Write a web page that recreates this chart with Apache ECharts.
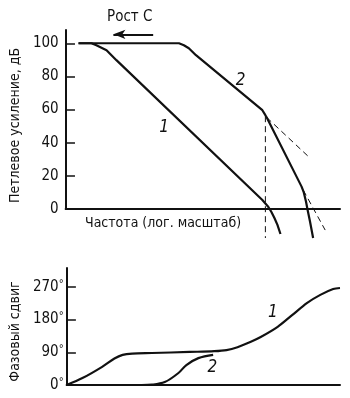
<!DOCTYPE html>
<html>
<head>
<meta charset="utf-8">
<script src="https://cdn.jsdelivr.net/npm/echarts@6/dist/echarts.min.js"></script>
<style>
  html, body { margin: 0; padding: 0; background: #fff; }
  #chart { width: 350px; height: 398px; }
</style>
</head>
<body>
<div id="chart"></div>
<script>
// частота: условная лог. шкала 0..100
const gainTicks = [0, 20, 40, 60, 80, 100]
const phaseTicks = [0, 90, 180, 270]

// петлевое усиление, дБ  [частота, дБ]
const gain1 = [
  [4.7, 100], [9.4, 100], [11.2, 98.8], [14.9, 95.8], [18.5, 89.8],
  [71.7, 5.4], [73.9, 1.2], [75.0, -1.8], [76.1, -5.4], [77.2, -9.6], [78.3, -15.1]
]
const gain2 = [
  [4.7, 100], [41.3, 100], [43.1, 98.8], [44.9, 97.0], [47.5, 92.8],
  [71.7, 59.6], [72.8, 56.6], [73.3, 55.2], [86.0, 13.5], [86.8, 10.0],
  [87.6, 4.5], [88.2, -0.6], [89.1, -7.8], [90.2, -17.5]
]
// асимптоты (пунктир)
const asym1 = [[73.3, 55.2], [89.1, 30.7]]
const asym2 = [[86.6, 11.4], [94.6, -12.7]]
const cutoff = [[72.8, 56], [72.8, -17.5]]
// стрелка «Рост C»
const arrowLine = [[31.9, 105.4], [17.4, 105.4]]

// фазовый сдвиг, градусы
const phase1 = [
  [0, 0], [5.8, 19], [13.0, 50], [17.5, 73], [20.5, 83], [24, 86.5],
  [31.2, 88], [45, 91], [54, 93], [58.5, 96], [62.5, 104], [67.4, 119],
  [71.0, 132], [77.2, 160], [82.6, 193], [88.0, 226], [92.8, 248],
  [97.5, 264], [100, 267]
]
const phase2 = [
  [27.5, 0], [31.2, 1], [35.9, 8], [40.9, 33], [43.8, 55], [48.2, 74], [53.6, 83]
]

const font = '"Liberation Sans Narrow", "DejaVu Sans Condensed", sans-serif'
const black = '#111'
const tickLen = 3.4 // длина штриха в единицах оси X

const chart = echarts.init(document.getElementById('chart'))

const curveLabel = (text, coord) => ({
  symbol: 'circle',
  symbolSize: 0,
  silent: true,
  label: {
    show: true,
    position: 'inside',
    formatter: text,
    color: black,
    fontSize: 17,
    fontStyle: 'italic',
    fontFamily: font
  },
  data: [{ coord }]
})

// штрихи шкалы внутрь графика
const tickMarks = (values) => ({
  silent: true,
  symbol: ['none', 'none'],
  label: { show: false },
  lineStyle: { color: black, width: 1.5, type: 'solid' },
  data: values.map((v) => [{ coord: [0, v] }, { coord: [tickLen, v] }])
})

const solid = (name, xi, data, extra) => Object.assign({
  name,
  type: 'line',
  xAxisIndex: xi,
  yAxisIndex: xi,
  data,
  symbol: 'none',
  clip: false,
  lineStyle: { color: black, width: 2.2 }
}, extra)

const dashed = (name, data) => ({
  name,
  type: 'line',
  data,
  symbol: 'none',
  clip: false,
  lineStyle: { color: black, width: 1, type: [6, 4] }
})

const option = {
  animation: false,
  backgroundColor: '#fff',
  title: {
    text: 'Рост C',
    left: 102,
    top: 5,
    textStyle: { color: black, fontSize: 15, fontWeight: 'normal', fontFamily: font }
  },
  graphic: [{
    type: 'text',
    left: 85,
    top: 216,
    style: { text: 'Частота (лог. масштаб)', fill: black, font: '14px ' + font }
  }],
  grid: [
    { left: 64, top: 30, width: 276, height: 179 },
    { left: 64, top: 268, width: 276, height: 117 }
  ],
  xAxis: [0, 1].map((i) => ({
    type: 'value',
    gridIndex: i,
    min: 0,
    max: 100,
    axisLine: { onZero: false, lineStyle: { color: black, width: 2 } },
    axisTick: { show: false },
    axisLabel: { show: false },
    splitLine: { show: false }
  })),
  yAxis: [
    {
      type: 'value',
      gridIndex: 0,
      min: 0,
      max: 108,
      interval: 20,
      name: 'Петлевое усиление, дБ',
      nameLocation: 'middle',
      nameRotate: 90,
      nameGap: 40,
      nameTextStyle: { color: black, fontSize: 14, fontFamily: font, padding: [0, 0, 0, -12] },
      axisLine: { show: true, onZero: false, lineStyle: { color: black, width: 2 } },
      axisTick: { show: false },
      axisLabel: { showMaxLabel: false, margin: 7, color: black, fontSize: 15, fontFamily: font },
      splitLine: { show: false }
    },
    {
      type: 'value',
      gridIndex: 1,
      min: 0,
      max: 322,
      interval: 90,
      name: 'Фазовый сдвиг',
      nameLocation: 'middle',
      nameRotate: 90,
      nameGap: 40,
      nameTextStyle: { color: black, fontSize: 14, fontFamily: font, padding: [0, 0, 0, -10] },
      axisLine: { show: true, onZero: false, lineStyle: { color: black, width: 2 } },
      axisTick: { show: false },
      axisLabel: {
        showMaxLabel: false,
        margin: 3,
        color: black,
        fontSize: 15,
        fontFamily: font,
        formatter: (v) => v + '{d|°}',
        rich: { d: { fontSize: 11, verticalAlign: 'top', color: black, fontFamily: font, padding: [0, 0, 6, 0] } }
      },
      splitLine: { show: false }
    }
  ],
  series: [
    solid('gain1', 0, gain1, {
      markPoint: curveLabel('1', [35.9, 49.4]),
      markLine: tickMarks(gainTicks.slice(1))
    }),
    solid('gain2', 0, gain2, {
      markPoint: curveLabel('2', [63.8, 77.7]),
      markLine: {
        silent: true,
        symbol: ['none', 'arrow'],
        symbolSize: [7, 12],
        label: { show: false },
        lineStyle: { color: black, width: 2, type: 'solid' },
        data: [[{ coord: arrowLine[0] }, { coord: arrowLine[1] }]]
      }
    }),
    dashed('asym1', asym1),
    dashed('asym2', asym2),
    dashed('cutoff', cutoff),
    solid('phase1', 1, phase1, {
      smooth: 0.3,
      markPoint: curveLabel('1', [75.4, 198]),
      markLine: tickMarks(phaseTicks.slice(1))
    }),
    solid('phase2', 1, phase2, { smooth: 0.35, markPoint: curveLabel('2', [53.3, 47]) })
  ]
}

chart.setOption(option)
</script>
</body>
</html>
